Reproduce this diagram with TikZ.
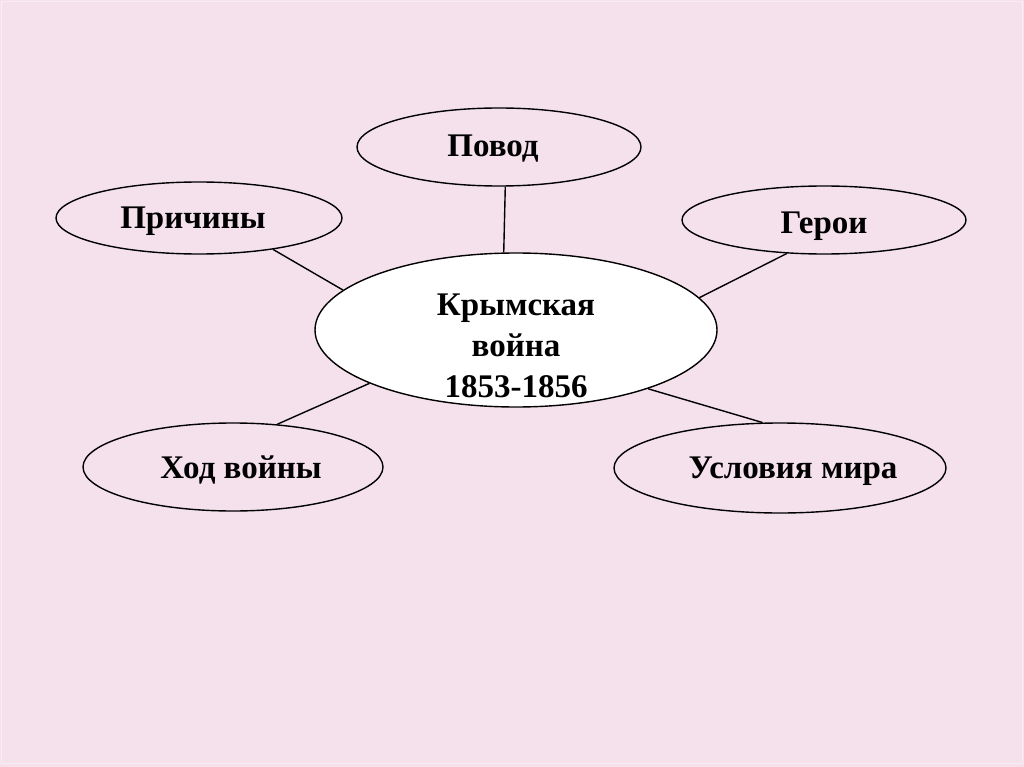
\documentclass[tikz,border=0pt]{standalone}
\usepackage{fontspec}
\setmainfont{Liberation Serif}
\usetikzlibrary{shapes.geometric}
\definecolor{bgpink}{RGB}{245,225,236}
\begin{document}
\begin{tikzpicture}[x=1pt,y=-1pt,
  oval/.style={ellipse, draw=black, line width=1.4pt, inner sep=0pt,
    font=\fontsize{33pt}{41pt}\selectfont\bfseries},
  small/.style={oval, text depth=0pt},
  link/.style={draw=black, line width=1.4pt}]
\fill[bgpink] (0,0) rectangle (1024,767);
\useasboundingbox (0,0) rectangle (1024,767);
\draw[white!35!bgpink, line width=0.8pt] (1.5,1.5) rectangle (1022.5,763.5);
% centre
\node[oval, fill=white, minimum width=402pt, minimum height=154pt] (krym) at (516,330)
  {\raisebox{15pt}[0pt][0pt]{\begin{tabular}[t]{@{}c@{}}Крымская\\война\\1853-1856\end{tabular}}};
% satellites
\node[small, minimum width=284pt, minimum height=78pt, text height=20pt] (povod) at (499,147) {\hspace*{-12pt}Повод};
\node[small, minimum width=286pt, minimum height=72pt, text height=20.6pt] (prich) at (199,218) {\hspace*{-12pt}Причины};
\node[small, minimum width=284pt, minimum height=68pt, text height=26.6pt] (geroi) at (824,220) {Герои};
\node[small, minimum width=300pt, minimum height=88pt, text height=22.6pt] (hod) at (233,467) {\hspace*{16pt}Ход войны};
\node[small, minimum width=328pt, minimum height=90pt, text height=20.6pt] (usl) at (780,468) {\hspace*{26pt}Условия мира};
% connectors
\draw[link] (povod.-81) -- (krym.99);
\draw[link] (prich.-23) -- (krym.167);
\draw[link] (geroi.-138) -- (krym.10);
\draw[link] (hod.44) -- (krym.200);
\draw[link] (usl.111) -- (krym.-24);
\end{tikzpicture}
\end{document}
